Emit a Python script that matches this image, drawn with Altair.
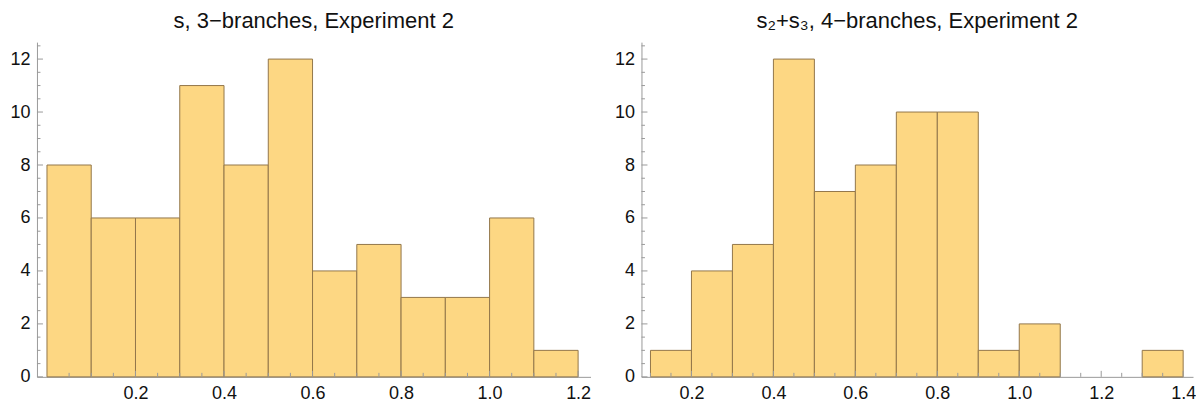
import altair as alt
import pandas as pd

# ---- data ----
left_bin_start = [0.0, 0.1, 0.2, 0.3, 0.4, 0.5, 0.6, 0.7, 0.8, 0.9, 1.0, 1.1]
left_counts = [8, 6, 6, 11, 8, 12, 4, 5, 3, 3, 6, 1]

right_bin_start = [0.1, 0.2, 0.3, 0.4, 0.5, 0.6, 0.7, 0.8, 0.9, 1.0, 1.1, 1.2, 1.3]
right_counts = [1, 4, 5, 12, 7, 8, 10, 10, 1, 2, 0, 0, 1]

bin_width = 0.1

left_title = "s, 3\u2212branches, Experiment 2"
right_title = "s\u2082+s\u2083, 4\u2212branches, Experiment 2"

left_x_labels = [0.2, 0.4, 0.6, 0.8, 1.0, 1.2]
right_x_labels = [0.2, 0.4, 0.6, 0.8, 1.0, 1.2, 1.4]
y_labels = [0, 2, 4, 6, 8, 10, 12]
y_minor = [0.5, 1, 1.5, 2.5, 3, 3.5, 4.5, 5, 5.5, 6.5, 7, 7.5, 8.5, 9, 9.5,
           10.5, 11, 11.5, 12.5]
left_x_minor = [0.05, 0.1, 0.15, 0.25, 0.3, 0.35, 0.45, 0.5, 0.55, 0.65, 0.7,
                0.75, 0.85, 0.9, 0.95, 1.05, 1.1, 1.15]
right_x_minor = [0.1, 0.15, 0.25, 0.3, 0.35, 0.45, 0.5, 0.55, 0.65, 0.7, 0.75,
                 0.85, 0.9, 0.95, 1.05, 1.1, 1.15, 1.25, 1.3, 1.35]

left_domain = [-0.0226, 1.228]
right_domain = [0.078, 1.424]
y_domain = [0, 12.64]

W_LEFT = 554
W_RIGHT = 552
H = 335

FILL = "#FDD783"
EDGE = "#93764A"
AXIS_GRAY = "#9a9a9a"
FONT = "Liberation Sans"


def panel(starts, counts, title, xdomain, xlabels, xminor, width):
    bars = pd.DataFrame({
        "start": starts,
        "end": [s + bin_width for s in starts],
        "count": counts,
    })
    bars = bars[bars["count"] > 0]

    xscale = alt.Scale(domain=xdomain, nice=False, zero=False)
    yscale = alt.Scale(domain=y_domain, nice=False, zero=False)
    xaxis = alt.Axis(values=xlabels, format=".1f", ticks=False,
                     grid=False, domainColor=AXIS_GRAY,
                     labelFontSize=18, labelFont=FONT,
                     labelColor="#111", labelPadding=8,
                     labelFlush=False)
    yaxis = alt.Axis(values=y_labels, format="d", ticks=False,
                     grid=False, domainColor=AXIS_GRAY,
                     labelFontSize=18, labelFont=FONT,
                     labelColor="#111", labelPadding=7,
                     minExtent=37, maxExtent=37)

    def X(f):
        return alt.X(f, scale=xscale, title=None, axis=xaxis)

    def Y(f):
        return alt.Y(f, scale=yscale, title=None, axis=yaxis)

    bar_layer = alt.Chart(bars).mark_rect(
        fill=FILL, stroke=EDGE, strokeWidth=1
    ).encode(
        x=X("start:Q"), x2="end:Q",
        y=Y("count:Q"), y2=alt.datum(0),
    )

    xmaj = alt.Chart(pd.DataFrame({"v": xlabels})).mark_rule(
        color=AXIS_GRAY, strokeWidth=1
    ).encode(x=X("v:Q"), y=alt.value(H), y2=alt.value(H - 6))
    xmin = alt.Chart(pd.DataFrame({"v": xminor})).mark_rule(
        color=AXIS_GRAY, strokeWidth=1
    ).encode(x=X("v:Q"), y=alt.value(H), y2=alt.value(H - 4))
    ymaj = alt.Chart(pd.DataFrame({"v": y_labels})).mark_rule(
        color=AXIS_GRAY, strokeWidth=1
    ).encode(y=Y("v:Q"), x=alt.value(0), x2=alt.value(6))
    ymin = alt.Chart(pd.DataFrame({"v": y_minor})).mark_rule(
        color=AXIS_GRAY, strokeWidth=1
    ).encode(y=Y("v:Q"), x=alt.value(0), x2=alt.value(3.5))

    return alt.layer(bar_layer, ymin, ymaj, xmin, xmaj).properties(
        width=width, height=H,
        title=alt.TitleParams(title, fontSize=22, font=FONT, fontWeight="normal",
                              color="#111", anchor="middle",
                              baseline="alphabetic", offset=-8),
    )


left = panel(left_bin_start, left_counts, left_title, left_domain,
             left_x_labels, left_x_minor, W_LEFT)
right = panel(right_bin_start, right_counts, right_title, right_domain,
              right_x_labels, right_x_minor, W_RIGHT)

chart = alt.hconcat(left, right, spacing=13).properties(
    padding={"left": 0, "top": 10, "right": 0, "bottom": 0},
    background="white",
).configure_view(stroke=None).resolve_scale(x="independent")

chart.save("out.html", embed_options={"renderer": "svg", "actions": False})
